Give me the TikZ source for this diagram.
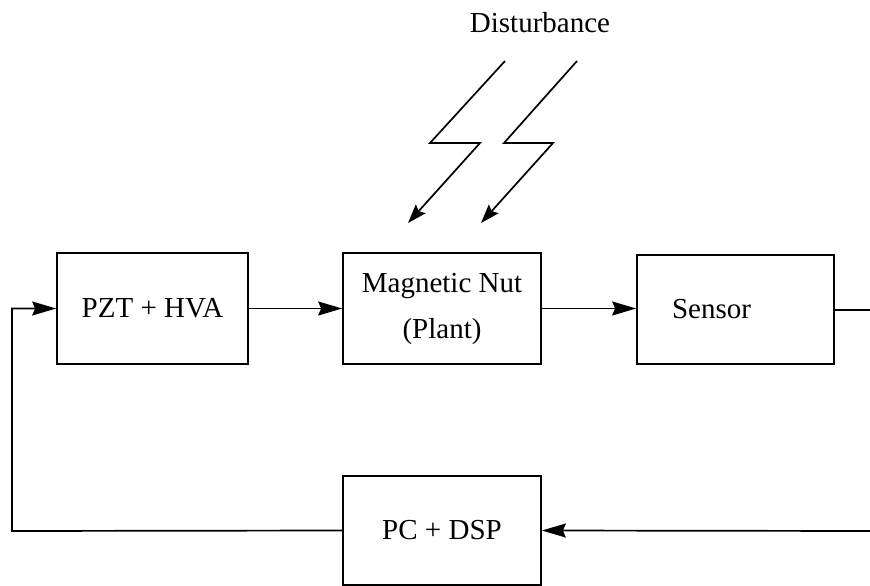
\documentclass[tikz,border=0pt]{standalone}
\usepackage{fontspec}
\setmainfont{Liberation Serif}
\usetikzlibrary{arrows.meta}
\begin{document}
\begin{tikzpicture}[x=1pt,y=-1pt,
  blk/.style={draw, line width=1.7pt, inner sep=0pt, align=center,
    font=\fontsize{29}{35}\selectfont},
  lbl/.style={inner sep=0pt, font=\fontsize{29}{35}\selectfont},
  conn/.style={line width=1.7pt},
  arr/.style={conn, -{Stealth[length=24pt,width=14pt,inset=3pt]}},
  barr/.style={conn, -{Stealth[length=19pt,width=13pt,inset=3pt]}}]
\useasboundingbox (0,0) rectangle (870,586);
% blocks
\node[blk, minimum width=191pt, minimum height=111pt] (pzt) at (152.5,308.5) {PZT + HVA};
\node[blk, minimum width=198pt, minimum height=111pt] (nut) at (442,308.5) {Magnetic Nut\\[11pt](Plant)};
\node[blk, minimum width=197pt, minimum height=109pt] (sen) at (735.5,309.5) {Sensor\hspace*{48pt}};
\node[blk, minimum width=198pt, minimum height=109pt] (pc) at (442,530.5) {PC + DSP};
\node[lbl] (dist) at (540,23) {Disturbance};
% coordinates
\coordinate (rtop) at (870,310);
\coordinate (rbot) at (870,531);
\coordinate (lcorner) at (12,531);
\coordinate (a1) at (505,61);
\coordinate (a2) at (430,143);
\coordinate (a3) at (480,143);
\coordinate (a4) at (408,223);
\coordinate (b1) at (577,61);
\coordinate (b2) at (504,143);
\coordinate (b3) at (553,143);
\coordinate (b4) at (481,223);
% connectors
\draw[arr] (pzt.east) -- (nut.west);
\draw[arr] (nut.east) -- (nut.east -| sen.west);
\draw[conn] (sen.east |- rtop) -- (rtop);
\draw[arr] (rbot) -- (pc.east);
\draw[arr] (pc.west) -- (lcorner) |- (pzt.west);
% disturbance bolts
\draw[barr] (a1) -- (a2) -- (a3) -- (a4);
\draw[barr] (b1) -- (b2) -- (b3) -- (b4);
\end{tikzpicture}
\end{document}
